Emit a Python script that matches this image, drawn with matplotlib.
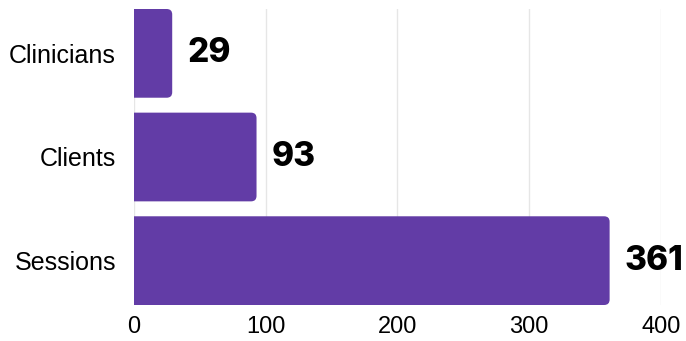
import matplotlib

matplotlib.use("Agg")
import matplotlib.pyplot as plt
from matplotlib.path import Path
from matplotlib.patches import PathPatch

categories = ["Clinicians", "Clients", "Sessions"]
values = [29, 93, 361]
xticks = [0, 100, 200, 300, 400]

PURPLE = "#623CA6"
BAR_H = 0.856

fig = plt.figure(figsize=(6.86, 3.41), dpi=100)
ax = fig.add_axes([134 / 686, 1 - 305 / 341, 527 / 686, 296 / 341])

ypos = list(range(len(categories)))
bars = ax.barh(ypos, values, height=BAR_H, color="none")
ax.set_xlim(0, 400)
ax.set_ylim(len(categories) - 1 + BAR_H / 2, -BAR_H / 2)

# rounded right corners: pixel radius -> data units on each axis
r_px = 5.5
rx = r_px * 400 / 527
ry = r_px * (len(categories) - 1 + BAR_H) / 296


def right_rounded(x0, y0, w, h):
    x1, y1 = x0 + w, y0 + h
    verts = [(x0, y0), (x1 - rx, y0), (x1, y0), (x1, y0 + ry),
             (x1, y1 - ry), (x1, y1), (x1 - rx, y1), (x0, y1), (x0, y0)]
    codes = [Path.MOVETO, Path.LINETO, Path.CURVE3, Path.CURVE3,
             Path.LINETO, Path.CURVE3, Path.CURVE3, Path.LINETO, Path.CLOSEPOLY]
    return Path(verts, codes)


for b in bars:
    p = right_rounded(b.get_x(), b.get_y(), b.get_width(), b.get_height())
    ax.add_patch(PathPatch(p, fc=PURPLE, ec="none", zorder=3))

for y, v in zip(ypos, values):
    ax.text(v + 15 * 400 / 527, y, str(v), va="center", ha="left", fontsize=24,
            fontweight="heavy", family=["Inter", "DejaVu Sans"], color="black")

ax.set_yticks(ypos)
ax.set_yticklabels(categories, fontsize=18, family="Liberation Sans")
ax.set_xticks(xticks)
ax.set_xticklabels([str(t) for t in xticks], fontsize=17, family="Liberation Sans")
ax.tick_params(axis="both", length=0)
ax.tick_params(axis="y", pad=13)
ax.tick_params(axis="x", pad=8)
ax.grid(axis="x", color="#e6e6e6", lw=1, zorder=0)
ax.set_axisbelow(True)
for s in ax.spines.values():
    s.set_visible(False)

fig.savefig("out.png", dpi=100)
